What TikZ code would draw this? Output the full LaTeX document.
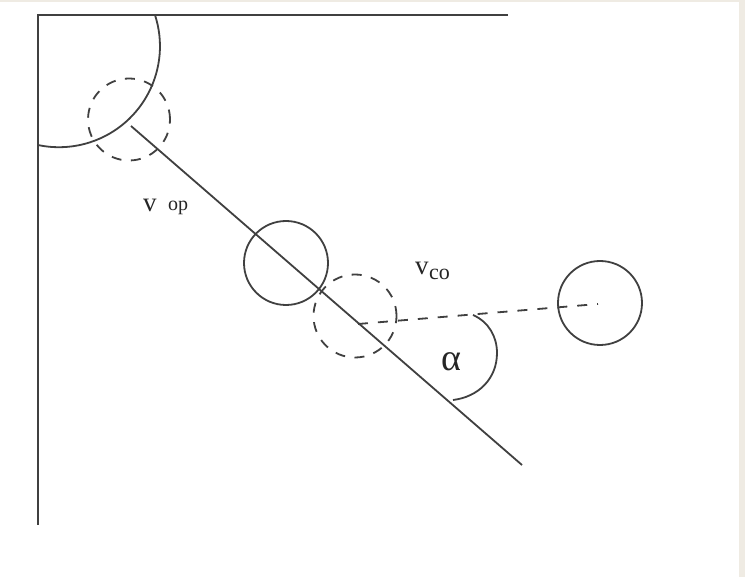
\documentclass[tikz,border=0pt]{standalone}
\usepackage{fontspec}
\setmainfont{Liberation Serif}
\definecolor{pagetint}{HTML}{EFEBE3}
\definecolor{inkgray}{HTML}{404040}
\begin{document}
\begin{tikzpicture}[
        x=1pt,
        y=-1pt,
        line/.style={
            draw=inkgray,
            line width=1.8pt
        },
        ball/.style={
            line,
            circle,
            inner sep=0pt,
            outer sep=0pt,
            minimum size=84pt
        },
        ghost/.style={
            ball,
            minimum size=82pt,
            dash pattern=on 10pt off 9.5pt
        },
        sightline/.style={
            line,
            dash pattern=on 10pt off 10pt
        },
        tag/.style={
            text=black!85,
            inner sep=0pt,
            anchor=base west
        }
    ]

    % Page
    \fill[pagetint] (0,0) rectangle (745,577);
    \fill[white] (0,2) rectangle (739,577);
    \useasboundingbox (0,0) rectangle (745,577);

    % Walls
    \coordinate (corner) at (38,15);
    \coordinate (topend) at (508,15);
    \coordinate (leftend) at (38,525);
    \draw[line] (topend) -- (corner) -- (leftend);
    \draw[line] (155,15) arc[start angle=18, end angle=-102, radius=101pt];

    % Nodes
    \node (ghostop) [ghost] at (129,119.5) {};
    \node (ballmid) [ball] at (286,263) {};
    \node (ghostco) [ghost, minimum size=83pt] at (355,316) {};
    \node (ballco) [ball] at (600,303) {};

    % Paths
    \coordinate (opstart) at (131,126);
    \coordinate (opend) at (522,465);
    \coordinate (costart) at (358,324);
    \coordinate (coend) at (598,304);
    \draw[line] (opstart) -- (opend);
    \draw[sightline] (costart) -- (coend);

    % Angle
    \draw[line] (473,315) .. controls (489,322) and (497,337) .. (497,353)
        .. controls (497,379) and (478,397) .. (453,400);

    % Labels
    \node (vop) [tag, font=\fontsize{27}{27}\selectfont] at (143,212) {v};
    \node (op) [tag, font=\fontsize{20}{20}\selectfont] at (168,211) {op};
    \node (vco) [tag, font=\fontsize{27}{27}\selectfont] at (415,275) {v};
    \node (co) [tag, font=\fontsize{22}{22}\selectfont] at (429,280) {co};
    \node (alpha) [tag, font=\fontsize{38}{38}\selectfont] at (441,371) {α};

\end{tikzpicture}
\end{document}
